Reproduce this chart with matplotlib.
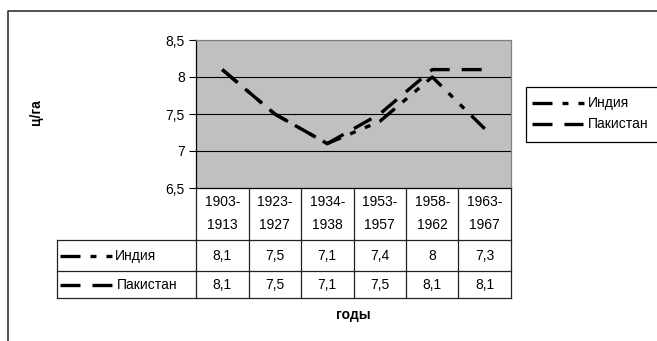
import matplotlib
matplotlib.use("Agg")
import matplotlib.pyplot as plt
import matplotlib.transforms as mtransforms
from matplotlib.lines import Line2D
from matplotlib.patches import Rectangle

categories = ["1903-1913", "1923-1927", "1934-1938", "1953-1957", "1958-1962", "1963-1967"]
india = [8.1, 7.5, 7.1, 7.4, 8.0, 7.3]
pakistan = [8.1, 7.5, 7.1, 7.5, 8.1, 8.1]
series_names = ["Индия", "Пакистан"]
yticks = [6.5, 7.0, 7.5, 8.0, 8.5]
ylabel = "ц/га"
xlabel = "годы"

plt.rcParams['font.family'] = ['Liberation Sans', 'DejaVu Sans']
plt.rcParams['lines.scale_dashes'] = False

W, H = 657, 341
fig = plt.figure(figsize=(W / 100, H / 100), dpi=100)
fig.patch.set_facecolor('white')
FS = 10


def fx(px):
    return px / W


def fy(py):
    return 1 - py / H


def fmt(v):
    s = ("%g" % v).replace('.', ',')
    return s


india_dash = (14.4, 7.2, 4.3, 7.2, 4.3, 7.2)
pak_dash = (14.4, 8.6)
lw = 2.4

ax = fig.add_axes([fx(196), fy(188), (511 - 196) / W, (188 - 40) / H])
ax.set_facecolor('#C0C0C0')
ax.set_xlim(-0.5, len(categories) - 0.5)
ax.set_ylim(6.5, 8.5)
ax.set_yticks(yticks)
ax.set_yticklabels([fmt(v) for v in yticks])
ax.set_xticks([])
ax.tick_params(axis='y', direction='out', length=5, width=0.8, labelsize=FS, pad=3)
for y in yticks[1:-1]:
    ax.axhline(y, color='black', lw=0.8, zorder=1)
for s in ['top', 'right']:
    ax.spines[s].set_color('#808080')
for s in ['left', 'bottom']:
    ax.spines[s].set_color('black')
for s in ax.spines.values():
    s.set_linewidth(0.9)

xs = list(range(len(categories)))
ax.plot(xs, pakistan, color='black', lw=lw, dashes=pak_dash, zorder=3, dash_capstyle='butt')
ax.plot(xs, india, color='black', lw=lw, dashes=india_dash, zorder=4, dash_capstyle='butt')

ax.set_ylabel(ylabel, fontsize=FS, fontweight='bold')
ax.yaxis.set_label_coords(fx(43), fy(112), transform=fig.transFigure)

# table
trans = mtransforms.blended_transform_factory(ax.transData, fig.transFigure)
tc = '#222222'
for i in range(len(categories) + 1):
    x = i - 0.5
    fig.add_artist(Line2D([x, x], [fy(188), fy(298)], color=tc, lw=0.9, transform=trans))
for py in [240, 271, 298]:
    fig.add_artist(Line2D([fx(57), fx(511)], [fy(py), fy(py)], color=tc, lw=0.9,
                          transform=fig.transFigure))
fig.add_artist(Line2D([fx(57), fx(57)], [fy(240), fy(298)], color=tc, lw=0.9,
                      transform=fig.transFigure))

for i, c in enumerate(categories):
    a, b = c.split('-')
    fig.text(i, fy(202), a + '-', transform=trans, ha='center', va='center', fontsize=FS)
    fig.text(i, fy(225), b, transform=trans, ha='center', va='center', fontsize=FS)
    fig.text(i, fy(256), fmt(india[i]), transform=trans, ha='center', va='center', fontsize=FS)
    fig.text(i, fy(285), fmt(pakistan[i]), transform=trans, ha='center', va='center', fontsize=FS)

# table legend keys
fig.add_artist(Line2D([fx(60), fx(113)], [fy(256), fy(256)], color='black', lw=lw,
                      dashes=india_dash, transform=fig.transFigure))
fig.text(fx(115), fy(256), series_names[0], ha='left', va='center', fontsize=FS)
fig.add_artist(Line2D([fx(60), fx(112)], [fy(285), fy(285)], color='black', lw=lw,
                      dashes=pak_dash, transform=fig.transFigure))
fig.text(fx(117), fy(285), series_names[1], ha='left', va='center', fontsize=FS)

fig.text((0 + len(categories) - 1) / 2, fy(315), xlabel, transform=trans, ha='center',
         va='center', fontsize=FS, fontweight='bold')

# legend box
fig.add_artist(Rectangle((fx(526), fy(142)), fx(700) - fx(526), (142 - 87) / H,
                         facecolor='white', edgecolor='black', lw=0.9,
                         transform=fig.transFigure))
fig.add_artist(Line2D([fx(532), fx(586)], [fy(103), fy(103)], color='black', lw=lw,
                      dashes=india_dash, transform=fig.transFigure))
fig.text(fx(588), fy(103), series_names[0], ha='left', va='center', fontsize=FS)
fig.add_artist(Line2D([fx(532), fx(583)], [fy(124), fy(124)], color='black', lw=lw,
                      dashes=pak_dash, transform=fig.transFigure))
fig.text(fx(588), fy(124), series_names[1], ha='left', va='center', fontsize=FS)

# outer chart border
fig.add_artist(Line2D([fx(8), fx(8), fx(700)], [fy(400), fy(11), fy(11)], color='#333333',
                      lw=1.2, transform=fig.transFigure))

fig.savefig('out.png', dpi=100)
